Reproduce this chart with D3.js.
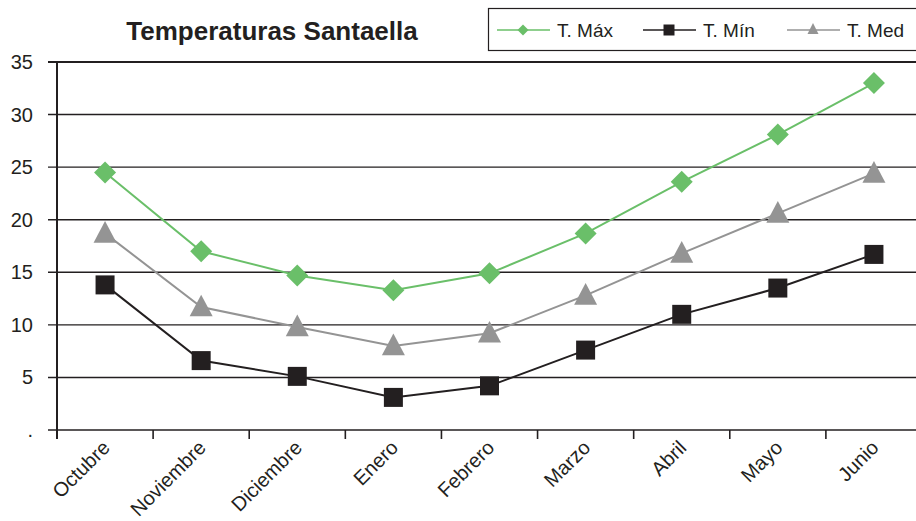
<!DOCTYPE html>
<html>
<head>
<meta charset="utf-8">
<script src="https://cdn.jsdelivr.net/npm/d3@7"></script>
<style>
  body { margin: 0; background: #fff; }
  svg { font-family: "Liberation Sans", Arial, sans-serif; }
</style>
</head>
<body>
<svg></svg>
<script>
// months and temperatures
var months = ["Octubre", "Noviembre", "Diciembre", "Enero", "Febrero", "Marzo", "Abril", "Mayo", "Junio"];
var tMax = [24.5, 17.0, 14.7, 13.3, 14.9, 18.7, 23.6, 28.1, 33.0];
var tMin = [13.8, 6.6, 5.1, 3.1, 4.2, 7.6, 11.0, 13.5, 16.7];
var tMed = [18.7, 11.7, 9.8, 8.0, 9.2, 12.8, 16.8, 20.6, 24.4];
var yTicks = [0, 5, 10, 15, 20, 25, 30, 35];
var yTickLabels = [".", "5", "10", "15", "20", "25", "30", "35"];
var seriesNames = ["T. Máx", "T. Mín", "T. Med"];

var width = 916;
var height = 521;

var svg = d3.select("svg").attr("width", width).attr("height", height);

var plotLeft = 57, plotRight = 922, plotTop = 62, plotBottom = 430;

var x = d3.scaleBand().domain(months).range([plotLeft, plotRight]);
var y = d3.scaleLinear().domain([0, 35]).range([plotBottom, plotTop]);

var dark = "#231f20";
var series = [
    { name: seriesNames[0], values: tMax, color: "#6abf69", shape: "diamond" },
    { name: seriesNames[1], values: tMin, color: dark, shape: "square" },
    { name: seriesNames[2], values: tMed, color: "#949494", shape: "triangle" }
];

// gridlines
svg.append("g").selectAll("line")
    .data(yTicks)
    .enter().append("line")
    .attr("x1", 48).attr("x2", width)
    .attr("y1", d => y(d)).attr("y2", d => y(d))
    .attr("stroke", dark)
    .attr("stroke-width", d => d === 35 ? 2 : 1.4);

// y labels
svg.append("g").selectAll("text")
    .data(yTicks)
    .enter().append("text")
    .attr("x", 33)
    .attr("y", d => y(d) + 7)
    .attr("text-anchor", "end")
    .attr("font-size", 20)
    .attr("fill", dark)
    .text((d, i) => yTickLabels[i]);

// y axis line
svg.append("line")
    .attr("x1", plotLeft).attr("x2", plotLeft)
    .attr("y1", plotTop).attr("y2", plotBottom + 9)
    .attr("stroke", dark).attr("stroke-width", 2);

// x tick marks at category boundaries
svg.append("g").selectAll("line")
    .data(months)
    .enter().append("line")
    .attr("x1", d => x(d)).attr("x2", d => x(d))
    .attr("y1", plotBottom).attr("y2", plotBottom + 9)
    .attr("stroke", dark).attr("stroke-width", 1.6);

// x labels
svg.append("g").selectAll("text")
    .data(months)
    .enter().append("text")
    .attr("transform", d => "translate(" + (x(d) + x.bandwidth() / 2 + 6) + "," + (plotBottom + 19) + ") rotate(-45)")
    .attr("text-anchor", "end")
    .attr("font-size", 20)
    .attr("fill", dark)
    .text(d => d);

function symbolFor(shape, size) {
    if (shape === "diamond") {
        var h = size / 2;
        return "M0," + (-h) + "L" + h + ",0L0," + h + "L" + (-h) + ",0Z";
    }
    if (shape === "square") {
        var s = size / 2;
        return "M" + (-s) + "," + (-s) + "H" + s + "V" + s + "H" + (-s) + "Z";
    }
    var w = size / 2, t = size * 0.45;
    return "M0," + (-t - 2) + "L" + w + "," + (t - 1) + "L" + (-w) + "," + (t - 1) + "Z";
}

var line = d3.line()
    .x((d, i) => x(months[i]) + x.bandwidth() / 2)
    .y(d => y(d));

// draw lines then markers
var order = [series[1], series[0], series[2]];
order.forEach(function(s) {
    svg.append("path")
        .attr("d", line(s.values))
        .attr("fill", "none")
        .attr("stroke", s.color)
        .attr("stroke-width", 2);
});
order.forEach(function(s) {
    var sz = s.shape === "diamond" ? 22 : (s.shape === "square" ? 19 : 23);
    svg.append("g").selectAll("path")
        .data(s.values)
        .enter().append("path")
        .attr("transform", (d, i) => "translate(" + (x(months[i]) + x.bandwidth() / 2) + "," + y(d) + ")")
        .attr("d", symbolFor(s.shape, sz))
        .attr("fill", s.color);
});

// title
svg.append("text")
    .attr("x", 272).attr("y", 40)
    .attr("text-anchor", "middle")
    .attr("font-size", 26)
    .attr("font-weight", "bold")
    .attr("fill", dark)
    .text("Temperaturas Santaella");

// legend
var legend = svg.append("g");
legend.append("rect")
    .attr("x", 488.5).attr("y", 8.5)
    .attr("width", 440).attr("height", 42)
    .attr("fill", "#fff")
    .attr("stroke", dark).attr("stroke-width", 1.2);

var legendX = [497, 643, 787];
series.forEach(function(s, i) {
    var lx = legendX[i];
    legend.append("line")
        .attr("x1", lx).attr("x2", lx + 53)
        .attr("y1", 30).attr("y2", 30)
        .attr("stroke", s.color).attr("stroke-width", 1.6);
    legend.append("path")
        .attr("transform", "translate(" + (lx + 26) + ",30)")
        .attr("d", symbolFor(s.shape, 11))
        .attr("fill", s.color);
    legend.append("text")
        .attr("x", lx + 60).attr("y", 37)
        .attr("font-size", 19)
        .attr("fill", dark)
        .text(s.name);
});
</script>
</body>
</html>
